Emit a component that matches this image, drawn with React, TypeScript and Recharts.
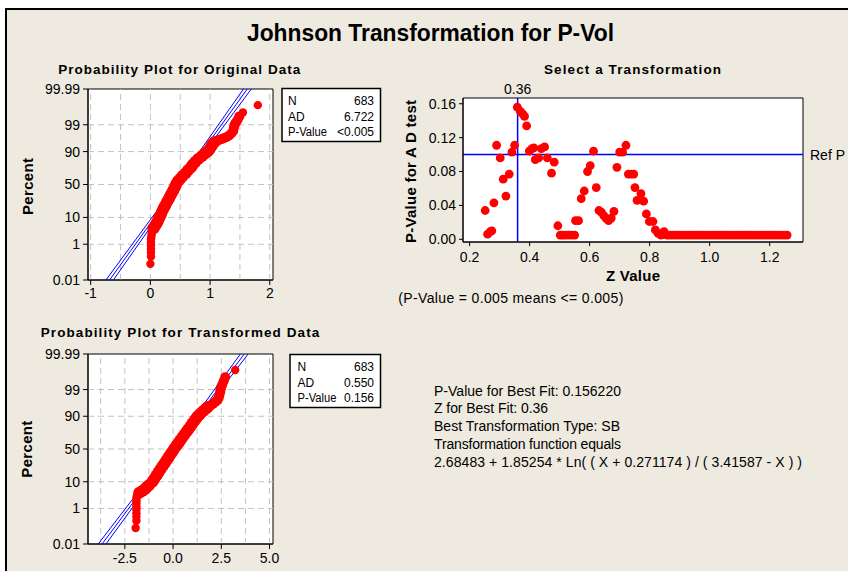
import React from 'react';
import { ScatterChart, Scatter, XAxis, YAxis, ReferenceLine, ReferenceArea } from 'recharts';

// ---------------- data ----------------
const PERCENT_TICKS = [0.01, 1, 10, 50, 90, 99, 99.99];
const PERCENT_GRID = [1, 10, 50, 90, 99];

// Probability plot for original data: [value, percent]
const origXTicks = [-1, 0, 1, 2];
const origXGrid = [-1, -0.5, 0, 0.5, 1, 1.5, 2];
const origTail: Array<[number, number]> = [
  [0.0, 0.1], [0.01, 0.25], [0.01, 0.4], [0.01, 0.6], [0.01, 0.9], [0.01, 1.2], [0.01, 1.6],
  [0.015, 2.0], [0.02, 2.5], [0.025, 3.0], [0.035, 3.6], [1.55, 99.75], [1.8, 99.9],
];
const origBody: Array<[number, number]> = [
  [0.05, 4.3], [0.07, 5], [0.09, 5.8], [0.11, 6.7], [0.13, 8], [0.15, 10], [0.175, 12], [0.2, 15],
  [0.225, 18], [0.25, 21], [0.28, 25], [0.31, 29], [0.335, 33], [0.36, 37], [0.385, 41], [0.405, 45],
  [0.43, 50], [0.46, 55], [0.5, 59], [0.54, 63], [0.59, 67], [0.63, 71], [0.68, 75], [0.71, 78],
  [0.75, 81], [0.8, 84], [0.86, 86.5], [0.91, 88.5], [0.96, 90], [0.99, 91.5], [1.02, 93], [1.04, 94.2],
  [1.07, 95],
];
const origUpper: Array<[number, number]> = [
  [1.12, 95.6], [1.16, 95.9], [1.2, 96.2], [1.24, 96.5], [1.28, 96.8], [1.32, 97.2],
  [1.36, 97.7], [1.39, 98.2], [1.4, 98.7], [1.41, 99.0], [1.43, 99.2], [1.46, 99.4], [1.49, 99.6],
];
const origFit: Array<[number, number]> = [[-0.683, 0.01], [1.623, 99.99]];
const origBandLo: Array<[number, number]> = [[-0.745, 0.01], [0.435, 50], [1.56, 99.99]];
const origBandHi: Array<[number, number]> = [[-0.62, 0.01], [0.505, 50], [1.69, 99.99]];
const origStats: Array<[string, string]> = [['N', '683'], ['AD', '6.722'], ['P-Value', '<0.005']];

// Probability plot for transformed data
const transXTicks = [-2.5, 0, 2.5, 5];
const transXGrid = [-3.75, -2.5, -1.25, 0, 1.25, 2.5, 3.75, 5];
const transTail: Array<[number, number]> = [
  [-1.94, 0.1], [-1.9, 0.25], [-1.9, 0.4], [-1.9, 0.6], [-1.9, 0.9], [-1.9, 1.2], [-1.9, 1.6],
  [-1.9, 2.0], [-1.9, 2.5], [-1.89, 3.0], [-1.86, 3.6], [3.22, 99.9],
];
const transBody: Array<[number, number]> = [
  [-1.75, 4.3], [-1.6, 5], [-1.47, 5.8], [-1.37, 6.7], [-1.24, 8], [-1.07, 10], [-0.98, 12], [-0.86, 15],
  [-0.76, 18], [-0.66, 21], [-0.55, 25], [-0.44, 29], [-0.34, 33], [-0.24, 37], [-0.15, 41], [-0.06, 45],
  [0.05, 50], [0.17, 55], [0.27, 59], [0.37, 63], [0.47, 67], [0.58, 71], [0.7, 75], [0.79, 78],
  [0.9, 81], [1.0, 84], [1.11, 86.5], [1.2, 88.5], [1.28, 90], [1.4, 91.5], [1.55, 93], [1.7, 94.2], [1.8, 95],
];
const transUpper: Array<[number, number]> = [
  [1.95, 95.6], [2.08, 96.2], [2.2, 96.8], [2.3, 97.2], [2.36, 97.7], [2.4, 98.2], [2.44, 98.7],
  [2.46, 99.0], [2.48, 99.2], [2.55, 99.4], [2.62, 99.6], [2.7, 99.75],
];
const transFit: Array<[number, number]> = [[-3.68, 0.01], [3.69, 99.99]];
const transBandLo: Array<[number, number]> = [[-3.88, 0.01], [-0.1, 50], [3.49, 99.99]];
const transBandHi: Array<[number, number]> = [[-3.48, 0.01], [0.12, 50], [3.89, 99.99]];
const transStats: Array<[string, string]> = [['N', '683'], ['AD', '0.550'], ['P-Value', '0.156']];

// Select a transformation: [Z value, P-value for AD test]
const zXTicks = [0.2, 0.4, 0.6, 0.8, 1.0, 1.2];
const zYTicks = [0, 0.04, 0.08, 0.12, 0.16];
const zPoints: Array<[number, number]> = [
  [0.252, 0.034], [0.26, 0.006], [0.269, 0.009], [0.274, 0.01], [0.281, 0.043], [0.29, 0.111],
  [0.302, 0.096], [0.312, 0.071], [0.321, 0.051], [0.332, 0.077], [0.341, 0.103], [0.35, 0.111],
  [0.359, 0.156], [0.369, 0.151], [0.377, 0.148], [0.383, 0.145], [0.39, 0.134], [0.399, 0.104],
  [0.408, 0.107], [0.414, 0.108], [0.419, 0.094], [0.43, 0.096], [0.439, 0.107], [0.45, 0.109],
  [0.459, 0.096], [0.473, 0.078], [0.482, 0.091], [0.494, 0.016], [0.502, 0.005], [0.51, 0.005],
  [0.52, 0.005], [0.53, 0.005], [0.54, 0.005], [0.55, 0.005], [0.553, 0.022], [0.563, 0.022],
  [0.572, 0.048], [0.582, 0.057], [0.593, 0.08], [0.602, 0.087], [0.613, 0.104], [0.622, 0.061],
  [0.631, 0.034], [0.639, 0.032], [0.647, 0.028], [0.654, 0.025], [0.663, 0.022], [0.672, 0.025],
  [0.681, 0.033], [0.691, 0.085], [0.7, 0.103], [0.71, 0.103], [0.721, 0.111], [0.729, 0.077],
  [0.738, 0.077], [0.747, 0.077], [0.751, 0.061], [0.758, 0.046], [0.771, 0.054], [0.78, 0.045],
  [0.789, 0.03], [0.799, 0.021], [0.811, 0.021], [0.819, 0.011], [0.828, 0.007], [0.848, 0.009],
];
const zFloorP = 0.005;
const zFloorZ = [
  0.838, 0.858, 0.868, 0.878, 0.888, 0.898, 0.908, 0.918, 0.928, 0.938, 0.948, 0.958, 0.968, 0.978,
  0.988, 0.998, 1.008, 1.018, 1.028, 1.038, 1.048, 1.058, 1.068, 1.078, 1.088, 1.098, 1.108, 1.118,
  1.128, 1.138, 1.148, 1.158, 1.168, 1.178, 1.188, 1.198, 1.208, 1.218, 1.228, 1.238, 1.248, 1.258,
];
const bestZ = 0.36;
const refP = 0.1;

const notes = [
  'P-Value for Best Fit: 0.156220',
  'Z for Best Fit: 0.36',
  'Best Transformation Type: SB',
  'Transformation function equals',
  '2.68483 + 1.85254 * Ln( ( X + 0.271174 ) / ( 3.41587 - X ) )',
];

// ---------------- helpers ----------------
const FONT = '"Liberation Sans", Arial, sans-serif';
const RED = '#FF0000';
const BLUE = '#0000FF';
const GRID = '#C2C2C2';
const BG = '#EEEAE0';

function probit(p: number): number {
  const a = [-39.69683028665376, 220.9460984245205, -275.9285104469687, 138.357751867269, -30.66479806614716, 2.506628277459239];
  const b = [-54.47609879822406, 161.5858368580409, -155.6989798598866, 66.80131188771972, -13.28068155288572];
  const c = [-0.007784894002430293, -0.3223964580411365, -2.400758277161838, -2.549732539343734, 4.374664141464968, 2.938163982698783];
  const d = [0.007784695709041462, 0.3224671290700398, 2.445134137142996, 3.754408661907416];
  const pl = 0.02425;
  if (p < pl) {
    const q = Math.sqrt(-2 * Math.log(p));
    return (((((c[0] * q + c[1]) * q + c[2]) * q + c[3]) * q + c[4]) * q + c[5]) / ((((d[0] * q + d[1]) * q + d[2]) * q + d[3]) * q + 1);
  }
  if (p <= 1 - pl) {
    const q = p - 0.5;
    const r = q * q;
    return ((((((a[0] * r + a[1]) * r + a[2]) * r + a[3]) * r + a[4]) * r + a[5]) * q) / (((((b[0] * r + b[1]) * r + b[2]) * r + b[3]) * r + b[4]) * r + 1);
  }
  const q = Math.sqrt(-2 * Math.log(1 - p));
  return -(((((c[0] * q + c[1]) * q + c[2]) * q + c[3]) * q + c[4]) * q + c[5]) / ((((d[0] * q + d[1]) * q + d[2]) * q + d[3]) * q + 1);
}

const toPts = (arr: Array<[number, number]>) => arr.map(([x, p]) => ({ x, y: probit(p / 100) }));
const Y_DOM: [number, number] = [probit(0.0001), probit(0.9999)];
const Y_TICKS = PERCENT_TICKS.map((p) => probit(p / 100));
const pctFmt = (v: number) => {
  const i = Y_TICKS.findIndex((t) => Math.abs(t - v) < 1e-6);
  return i >= 0 ? String(PERCENT_TICKS[i]) : '';
};

const dot = (r: number) => (props: any) => <circle cx={props.cx} cy={props.cy} r={r} fill={RED} />;
const NoDot = () => <g />;
const tickStyle = { fill: '#000', fontSize: 14, fontFamily: FONT };

type PlotProps = {
  left: number; top: number; width: number; height: number;
  marginTop: number; marginRight: number; yAxisWidth: number; xAxisHeight: number;
  xDomain: [number, number]; xTicks: number[]; xGrid: number[]; xFmt: (v: number) => string;
  xTickMargin: number;
  fit: Array<[number, number]>; bandLo: Array<[number, number]>; bandHi: Array<[number, number]>;
  tail: Array<[number, number]>; body: Array<[number, number]>; upper: Array<[number, number]>;
};

function ProbPlot(p: PlotProps) {
  return (
    <div style={{ position: 'absolute', left: p.left, top: p.top }}>
      <ScatterChart width={p.width} height={p.height} margin={{ top: p.marginTop, right: p.marginRight, bottom: 0, left: 0 }}>
        <XAxis type="number" dataKey="x" domain={p.xDomain} ticks={p.xTicks} tickFormatter={p.xFmt}
          allowDataOverflow interval={0} height={p.xAxisHeight} stroke="#000" tick={tickStyle}
          tickSize={5} tickMargin={p.xTickMargin} />
        <YAxis type="number" dataKey="y" domain={Y_DOM} ticks={Y_TICKS} tickFormatter={pctFmt}
          allowDataOverflow interval={0} width={p.yAxisWidth} stroke="#000" tick={tickStyle}
          tickSize={5} tickMargin={3} />
        <ReferenceArea x1={p.xDomain[0]} x2={p.xDomain[1]} y1={Y_DOM[0]} y2={Y_DOM[1]}
          fill="#FFFFFF" fillOpacity={1} stroke="#000" strokeWidth={1} ifOverflow="visible" />
        {p.xGrid.map((v) => (
          <ReferenceLine key={'gx' + v} x={v} stroke={GRID} strokeDasharray="6 4" />
        ))}
        {PERCENT_GRID.map((v) => (
          <ReferenceLine key={'gy' + v} y={probit(v / 100)} stroke={GRID} strokeDasharray="6 4" />
        ))}
        <Scatter data={toPts(p.bandLo)} line={{ stroke: BLUE, strokeWidth: 1 }} shape={NoDot} isAnimationActive={false} />
        <Scatter data={toPts(p.fit)} line={{ stroke: BLUE, strokeWidth: 1 }} shape={NoDot} isAnimationActive={false} />
        <Scatter data={toPts(p.bandHi)} line={{ stroke: BLUE, strokeWidth: 1 }} shape={NoDot} isAnimationActive={false} />
        <Scatter data={toPts(p.tail)} shape={dot(4.2)} isAnimationActive={false} />
        <Scatter data={toPts(p.upper)} shape={dot(5)} isAnimationActive={false} />
        <Scatter data={toPts(p.body)} shape={dot(6)} isAnimationActive={false} />
      </ScatterChart>
    </div>
  );
}

function StatBox({ x, y, w, labelX, stats }: { x: number; y: number; w: number; labelX: number; stats: Array<[string, string]> }) {
  return (
    <g>
      <rect x={x} y={y} width={w} height={53} fill="#FFFFFF" stroke="#000" strokeWidth={1.5} />
      {stats.map(([k, v], i) => (
        <g key={k}>
          <text x={labelX} y={y + 16.5 + i * 15.5} fontSize={12} fontFamily={FONT} fill="#000"
            textLength={k === 'P-Value' ? 39 : undefined} lengthAdjust="spacingAndGlyphs">{k}</text>
          <text x={x + w - 6.5} y={y + 16.5 + i * 15.5} fontSize={12} fontFamily={FONT} fill="#000" textAnchor="end">{v}</text>
        </g>
      ))}
    </g>
  );
}

export default function App() {
  const zData = zPoints.map(([x, y]) => ({ x, y }));
  const zFloor = zFloorZ.map((x) => ({ x, y: zFloorP }));
  const zXDom: [number, number] = [0.178, 1.311];
  const zYDom: [number, number] = [-0.0032, 0.1668];
  const noteLens = [187, 114, 186, 187, 368];
  return (
    <div style={{ position: 'absolute', left: 0, top: 0, width: 848, height: 571, background: '#FFFFFF', overflow: 'hidden' }}>
      <div style={{ position: 'absolute', left: 5, top: 8, width: 843, height: 563, background: BG, borderTop: '2px solid #000', borderLeft: '2px solid #000', boxSizing: 'border-box' }} />

      <ProbPlot left={0} top={60} width={300} height={250} marginTop={29} marginRight={27} yAxisWidth={88}
        xAxisHeight={30} xDomain={[-1.045, 2.054]} xTicks={origXTicks} xGrid={origXGrid}
        xFmt={(v) => String(v)} xTickMargin={3.5}
        fit={origFit} bandLo={origBandLo} bandHi={origBandHi} tail={origTail} body={origBody} upper={origUpper} />

      <ProbPlot left={0} top={330} width={300} height={241} marginTop={24} marginRight={27} yAxisWidth={88}
        xAxisHeight={27} xDomain={[-4.41, 5.18]} xTicks={transXTicks} xGrid={transXGrid}
        xFmt={(v) => v.toFixed(1)} xTickMargin={4}
        fit={transFit} bandLo={transBandLo} bandHi={transBandHi} tail={transTail} body={transBody} upper={transUpper} />

      <div style={{ position: 'absolute', left: 400, top: 70 }}>
        <ScatterChart width={448} height={200} margin={{ top: 28, right: 45, bottom: 0, left: 0 }}>
          <XAxis type="number" dataKey="x" domain={zXDom} ticks={zXTicks} tickFormatter={(v: number) => v.toFixed(1)}
            allowDataOverflow interval={0} height={28} stroke="#000" tick={tickStyle} tickSize={4} tickMargin={6.5} />
          <YAxis type="number" dataKey="y" domain={zYDom} ticks={zYTicks} tickFormatter={(v: number) => v.toFixed(2)}
            allowDataOverflow interval={0} width={63} stroke="#000" tick={tickStyle} tickSize={4} tickMargin={3} />
          <ReferenceArea x1={zXDom[0]} x2={zXDom[1]} y1={zYDom[0]} y2={zYDom[1]}
            fill="#FFFFFF" fillOpacity={1} stroke="#000" strokeWidth={1} ifOverflow="visible" />
          <ReferenceLine y={refP} stroke={BLUE} strokeWidth={1.5}
            label={{ value: 'Ref P', position: 'right', offset: 7, fill: '#000', fontSize: 14, fontFamily: FONT }} />
          <ReferenceLine x={bestZ} stroke={BLUE} strokeWidth={1.5}
            label={{ value: bestZ.toFixed(2), position: 'top', offset: 4, fill: '#000', fontSize: 14, fontFamily: FONT }} />
          <Scatter data={zData} shape={dot(4.4)} isAnimationActive={false} />
          <Scatter data={zFloor} shape={dot(4.4)} isAnimationActive={false} />
        </ScatterChart>
      </div>

      <svg width={848} height={571} style={{ position: 'absolute', left: 0, top: 0, pointerEvents: 'none' }}>
        <text x={430.5} y={41} fontSize={23} fontWeight="bold" fontFamily={FONT} textAnchor="middle"
          textLength={367} lengthAdjust="spacingAndGlyphs" fill="#000">Johnson Transformation for P-Vol</text>

        <text x={179.2} y={74.3} fontSize={13.5} fontWeight="bold" fontFamily={FONT} textAnchor="middle"
          textLength={242} lengthAdjust="spacing" fill="#000">Probability Plot for Original Data</text>
        <text x={632.5} y={74.3} fontSize={13.5} fontWeight="bold" fontFamily={FONT} textAnchor="middle"
          textLength={177} lengthAdjust="spacing" fill="#000">Select a Transformation</text>
        <text x={180} y={336.7} fontSize={13.5} fontWeight="bold" fontFamily={FONT} textAnchor="middle"
          textLength={278.6} lengthAdjust="spacing" fill="#000">Probability Plot for Transformed Data</text>

        <text x={32.5} y={186.5} transform="rotate(-90 32.5 186.5)" fontSize={15} fontWeight="bold" fontFamily={FONT}
          textAnchor="middle" textLength={57} lengthAdjust="spacing" fill="#000">Percent</text>
        <text x={32.5} y={449.2} transform="rotate(-90 32.5 449.2)" fontSize={15} fontWeight="bold" fontFamily={FONT}
          textAnchor="middle" textLength={57} lengthAdjust="spacing" fill="#000">Percent</text>
        <text x={416} y={171.5} transform="rotate(-90 416 171.5)" fontSize={15} fontWeight="bold" fontFamily={FONT}
          textAnchor="middle" textLength={143} lengthAdjust="spacing" fill="#000">P-Value for A D test</text>
        <text x={633} y={281} fontSize={15} fontWeight="bold" fontFamily={FONT} textAnchor="middle"
          textLength={54} lengthAdjust="spacing" fill="#000">Z Value</text>
        <text x={398.3} y={303} fontSize={14} fontFamily={FONT} textLength={225} lengthAdjust="spacing"
          fill="#000">(P-Value = 0.005 means &lt;= 0.005)</text>

        <StatBox x={282} y={88.5} w={98.5} labelX={288} stats={origStats} />
        <StatBox x={290} y={354.5} w={90.5} labelX={297.5} stats={transStats} />

        {notes.map((t, i) => (
          <text key={i} x={434} y={395.5 + i * 17.8} fontSize={14} fontFamily={FONT} fill="#000"
            textLength={noteLens[i]} lengthAdjust="spacing">{t}</text>
        ))}
      </svg>
    </div>
  );
}
